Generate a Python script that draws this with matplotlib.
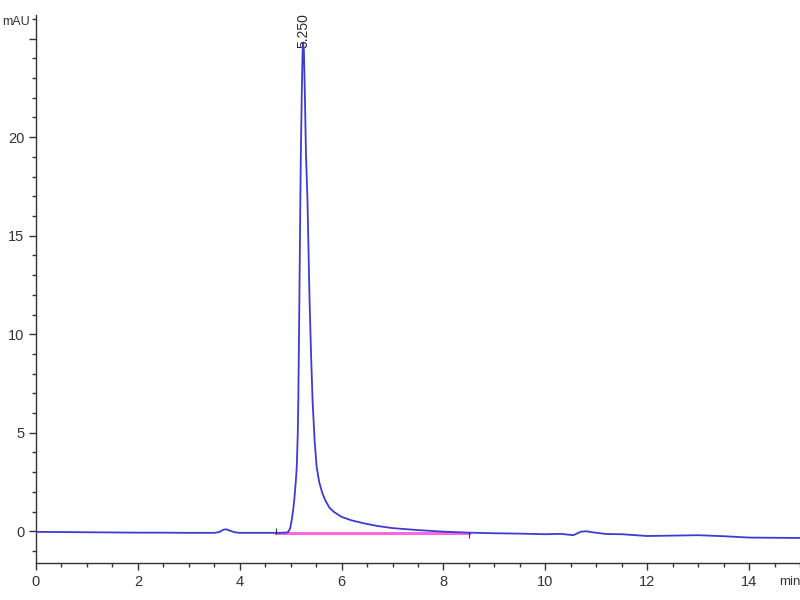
import numpy as np
import matplotlib.pyplot as plt
from matplotlib.ticker import MultipleLocator

# chromatogram trace: time [min], signal [mAU]
t = [0.0, 0.5, 1.0, 1.5, 2.0, 2.5, 3.0, 3.5, 3.6, 3.68, 3.73, 3.8, 3.9, 4.0,
     4.3, 4.7, 4.9, 4.95, 4.99, 5.02, 5.05, 5.07, 5.10, 5.12, 5.14, 5.15,
     5.17, 5.19, 5.20, 5.22, 5.235, 5.245, 5.26, 5.28, 5.30, 5.33, 5.37,
     5.40, 5.43, 5.47, 5.51, 5.56, 5.62, 5.68, 5.76, 5.85, 6.0, 6.2, 6.46,
     6.7, 7.0, 7.5, 8.0, 8.5, 9.0, 9.5, 10.0, 10.3, 10.55, 10.7, 10.8,
     10.95, 11.2, 11.5, 12.0, 12.5, 13.0, 13.5, 14.0, 14.5, 15.0]
sig = [-0.03, -0.04, -0.05, -0.06, -0.07, -0.07, -0.08, -0.08, -0.04, 0.08,
       0.1, 0.04, -0.05, -0.08, -0.08, -0.08, -0.07, -0.04, 0.15, 0.56, 1.1,
       1.57, 2.5, 3.27, 5.0, 6.65, 11.5, 16.8, 19.2, 22.5, 24.4, 24.8, 24.4,
       22.0, 19.2, 16.8, 11.8, 9.0, 6.65, 4.6, 3.27, 2.5, 1.95, 1.57, 1.2,
       0.98, 0.73, 0.55, 0.39, 0.27, 0.16, 0.06, -0.02, -0.07, -0.1, -0.12,
       -0.15, -0.13, -0.2, -0.02, 0.0, -0.06, -0.14, -0.15, -0.24, -0.22,
       -0.2, -0.25, -0.32, -0.33, -0.34]

# integration baseline
base_t = [4.72, 8.5]
base_y = [-0.07, -0.07]

peak_rt = 5.250
peak_h = 24.8

font = 'Liberation Sans'

fig = plt.figure(figsize=(8, 6), dpi=100)
ax = fig.add_axes([0.045, 0.062, 0.955, 0.913])

ax.plot(base_t, base_y, color='#ff66e0', lw=2.2, zorder=2)
ax.plot(t, sig, color='#3c3cd2', lw=1.3, zorder=3)
ax.vlines(base_t[0], -0.12, 0.18, color='#333333', lw=0.8, zorder=4)
ax.vlines(base_t[1], -0.32, -0.05, color='#333333', lw=0.8, zorder=4)

ax.text(peak_rt, peak_h - 0.3, '%.3f' % peak_rt, rotation=90, ha='center',
        va='bottom', fontsize=10, color='#2a2a2a', family=font, zorder=5)

ax.set_xlim(0, 15)
ax.set_ylim(-1.6, 26.2)
ax.xaxis.set_major_locator(MultipleLocator(2))
ax.xaxis.set_minor_locator(MultipleLocator(0.5))
ax.yaxis.set_major_locator(MultipleLocator(5))
ax.yaxis.set_minor_locator(MultipleLocator(1))
ax.yaxis.set_major_formatter(lambda v, p: '' if v > 22 else '%d' % v)

for s in ['top', 'right']:
    ax.spines[s].set_visible(False)
for s in ['left', 'bottom']:
    ax.spines[s].set_color('#333333')
    ax.spines[s].set_linewidth(1.0)

ax.tick_params(which='major', direction='out', length=5, width=1,
               color='#333333', labelsize=10.5, labelcolor='#333333')
ax.tick_params(which='minor', direction='out', length=3, width=1,
               color='#333333')
for lab in ax.get_xticklabels() + ax.get_yticklabels():
    lab.set_family(font)

fig.text(0.003, 0.963, 'mAU', fontsize=9, color='#333333',
         family=font, ha='left', va='center')
fig.text(0.987, 0.03, 'min', fontsize=9.5, color='#333333',
         family=font, ha='center', va='center')

fig.savefig('out.png')
